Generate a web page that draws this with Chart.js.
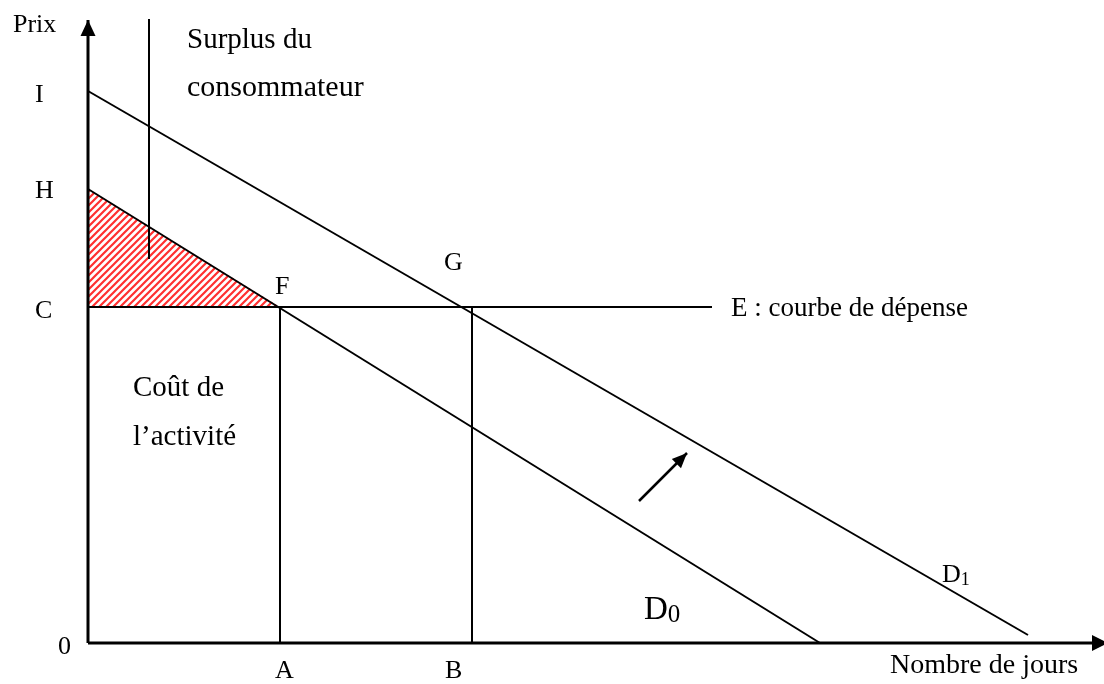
<!DOCTYPE html>
<html>
<head>
<meta charset="utf-8">
<script src="https://cdn.jsdelivr.net/npm/chart.js@4/dist/chart.umd.min.js"></script>
<style>
  html, body { margin: 0; padding: 0; background: #ffffff; }
  canvas { display: block; }
</style>
</head>
<body>
<canvas id="c" width="1104" height="684"></canvas>
<script>
// ---- Data (diagram units) ----
const demandD0 = [{x: 0, y: 45.4}, {x: 73.2, y: 0}];
const demandD1 = [{x: 0, y: 55.2}, {x: 94.0, y: 0.8}];
const expenseE = [{x: 0, y: 33.6}, {x: 62.4, y: 33.6}];
const dropA = [{x: 19.2, y: 33.6}, {x: 19.2, y: 0}];
const dropB = [{x: 38.4, y: 33.6}, {x: 38.4, y: 0}];
const surplusEdge = [{x: 0, y: 45.4}, {x: 19.2, y: 33.6}];
const surplusBase = 33.6;
const surplusPointer = [{x: 6.1, y: 62.4}, {x: 6.1, y: 38.4}];
const shiftArrow = [{x: 55.1, y: 14.2}, {x: 59.9, y: 19.0}];
const yAxisLine = [{x: 0, y: 0}, {x: 0, y: 62.3}];
const xAxisLine = [{x: 0, y: 0}, {x: 102.0, y: 0}];

const labelTexts = ['Prix', 'I', 'H', 'C', '0', 'A', 'B', 'Nombre de jours',
  'Surplus du', 'consommateur', 'F', 'G', 'E : courbe de dépense',
  'Coût de', 'l\u2019activité'];
const labelX = [-7.5, -5.3, -5.3, -5.3, -3.0, 18.7, 35.7, 80.2, 9.9, 9.9, 18.7, 35.6, 64.3, 4.5, 4.5];
const labelY = [61.1, 54.1, 44.5, 32.5, -1.1, -3.5, -3.5, -3.0, 59.5, 54.7, 34.9, 37.3, 32.7, 24.7, 19.8];

const curveNames = [{main: 'D', sub: '1'}, {main: 'D', sub: '0'}];
const curveNameX = [85.4, 55.6];
const curveNameY = [6.1, 2.4];

// ---- hatch pattern ----
function makeHatch() {
  const s = 7;
  const c = document.createElement('canvas');
  c.width = s; c.height = s;
  const g = c.getContext('2d');
  g.fillStyle = '#ffffff';
  g.fillRect(0, 0, s, s);
  g.strokeStyle = '#ff3030';
  g.lineWidth = 2.2;
  g.beginPath();
  g.moveTo(-1, s + 1); g.lineTo(s + 1, -1);
  g.moveTo(-1, 1); g.lineTo(1, -1);
  g.moveTo(s - 1, s + 1); g.lineTo(s + 1, s - 1);
  g.stroke();
  return g.createPattern(c, 'repeat');
}
const hatch = makeHatch();

const FONT = '"Liberation Serif", "Times New Roman", serif';

const overlay = {
  id: 'overlay',
  afterDatasetsDraw(chart, args, opts) {
    const ctx = chart.ctx;
    const xs = chart.scales.x, ys = chart.scales.y;
    ctx.save();
    // arrowheads
    chart.data.datasets.forEach(ds => {
      if (!ds.arrowHead) return;
      const p = ds.data;
      const a = p[p.length - 2], b = p[p.length - 1];
      const x1 = xs.getPixelForValue(a.x), y1 = ys.getPixelForValue(a.y);
      const x2 = xs.getPixelForValue(b.x), y2 = ys.getPixelForValue(b.y);
      const ang = Math.atan2(y2 - y1, x2 - x1);
      const L = ds.arrowHead.length, W = ds.arrowHead.width / 2;
      const bx = x2 - L * Math.cos(ang), by = y2 - L * Math.sin(ang);
      ctx.fillStyle = '#000';
      ctx.beginPath();
      ctx.moveTo(x2, y2);
      ctx.lineTo(bx + W * Math.sin(ang), by - W * Math.cos(ang));
      ctx.lineTo(bx - W * Math.sin(ang), by + W * Math.cos(ang));
      ctx.closePath();
      ctx.fill();
    });
    // labels
    ctx.fillStyle = '#000';
    ctx.textAlign = 'left';
    ctx.textBaseline = 'alphabetic';
    labelTexts.forEach((t, i) => {
      ctx.font = opts.sizes[i] + 'px ' + FONT;
      ctx.fillText(t, xs.getPixelForValue(labelX[i]), ys.getPixelForValue(labelY[i]));
    });
    // curve names with subscripts
    curveNames.forEach((n, i) => {
      const px = xs.getPixelForValue(curveNameX[i]);
      const py = ys.getPixelForValue(curveNameY[i]);
      ctx.font = opts.mainSizes[i] + 'px ' + FONT;
      ctx.fillText(n.main, px, py);
      const w = ctx.measureText(n.main).width;
      ctx.font = opts.subSizes[i] + 'px ' + FONT;
      ctx.fillText(n.sub, px + w, py + 3);
    });
    ctx.restore();
  }
};

const line = (data, width, extra) => Object.assign({
  data: data, showLine: true, pointRadius: 0, borderColor: '#000',
  borderWidth: width, fill: false, clip: false, order: 0, tension: 0
}, extra || {});

new Chart(document.getElementById('c'), {
  type: 'scatter',
  data: {
    datasets: [
      line(surplusEdge, 0, {fill: {value: surplusBase}, backgroundColor: hatch, order: 10}),
      line(demandD0, 2),
      line(demandD1, 2),
      line(expenseE, 2),
      line(dropA, 2),
      line(dropB, 2),
      line(surplusPointer, 2),
      line(shiftArrow, 2.5, {arrowHead: {length: 15, width: 13}}),
      line(yAxisLine, 3, {arrowHead: {length: 16, width: 15}}),
      line(xAxisLine, 3, {arrowHead: {length: 16, width: 16}})
    ]
  },
  options: {
    responsive: false,
    animation: false,
    events: [],
    layout: {padding: {left: 88, right: 0, top: 0, bottom: 41}},
    plugins: {
      legend: {display: false},
      tooltip: {enabled: false},
      overlay: {
        sizes: [26, 26, 26, 26, 26, 26, 26, 28, 29, 30, 26, 26, 27, 29, 29],
        mainSizes: [26, 33],
        subSizes: [18, 25]
      }
    },
    scales: {
      x: {type: 'linear', min: 0, max: 101.6, display: false},
      y: {type: 'linear', min: 0, max: 64.3, display: false}
    }
  },
  plugins: [overlay]
});
</script>
</body>
</html>
